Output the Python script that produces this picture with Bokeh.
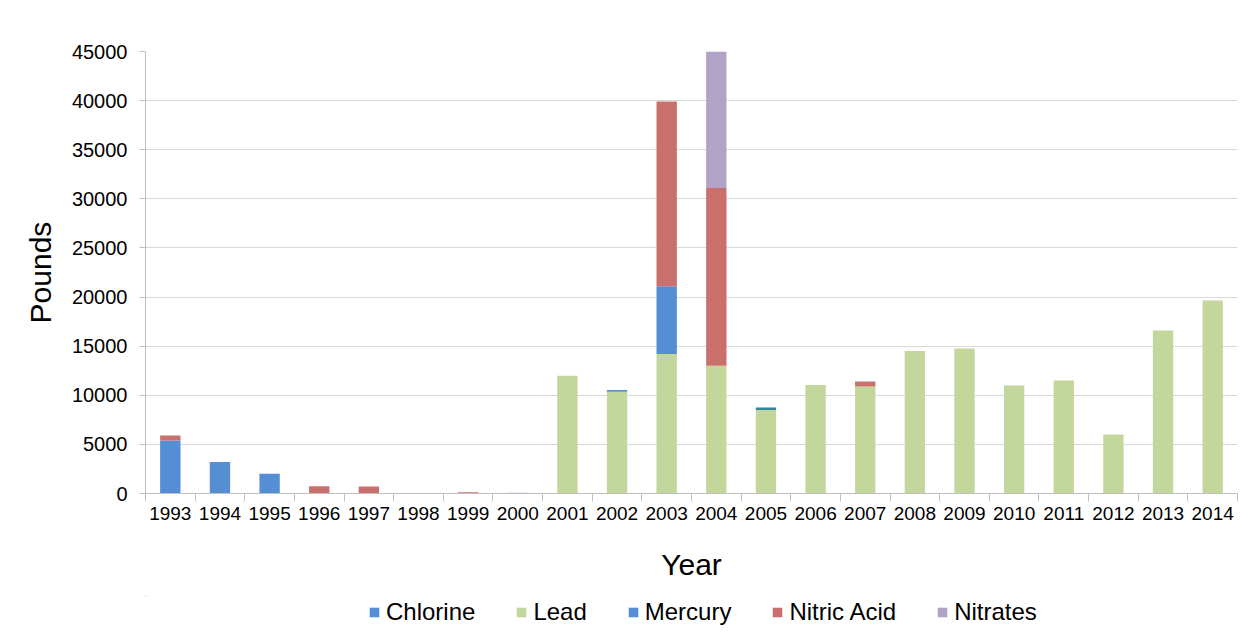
from bokeh.plotting import figure
from bokeh.layouts import column
from bokeh.models import (ColumnDataSource, Range1d, FixedTicker, Legend,
                          LegendItem)
from bokeh.embed import file_html
from bokeh.resources import INLINE

years = ["1993", "1994", "1995", "1996", "1997", "1998", "1999", "2000",
         "2001", "2002", "2003", "2004", "2005", "2006", "2007", "2008",
         "2009", "2010", "2011", "2012", "2013", "2014"]

chlorine = [5400, 3200, 2000, 0, 0, 0, 0, 0,
            0, 0, 0, 0, 0, 0, 0, 0,
            0, 0, 0, 0, 0, 0]
lead = [0, 0, 0, 0, 0, 0, 0, 0,
        12000, 10350, 14200, 13000, 8500, 11050, 10900, 14500,
        14750, 11000, 11500, 6000, 16600, 19650]
mercury = [0, 0, 0, 0, 0, 0, 0, 0,
           0, 200, 6900, 0, 0, 0, 0, 0,
           0, 0, 0, 0, 0, 0]
nitric_acid = [500, 0, 0, 750, 700, 0, 130, 0,
               0, 0, 18800, 18100, 0, 0, 500, 0,
               0, 0, 0, 0, 0, 0]
nitrates = [0, 0, 0, 0, 0, 0, 0, 0,
            0, 0, 0, 13900, 0, 0, 0, 0,
            0, 0, 0, 0, 0, 0]
other_teal = [0, 0, 0, 0, 0, 0, 0, 0,
              0, 0, 0, 0, 250, 0, 0, 0,
              0, 0, 0, 0, 0, 0]
other_pale = [0, 0, 0, 0, 0, 0, 0, 100,
              0, 0, 0, 0, 0, 0, 0, 0,
              0, 0, 0, 0, 0, 0]

series_names = ["Chlorine", "Lead", "Mercury", "Nitric Acid", "Nitrates"]
y_ticks = [0, 5000, 10000, 15000, 20000, 25000, 30000, 35000, 40000, 45000]

colors = ["#558ED5", "#C3D69B", "#558ED5", "#C9706D", "#B3A2C7",
          "#31859C", "#C6D9F1"]
keys = ["chlorine", "lead", "mercury", "nitric", "nitrates", "teal", "pale"]

positions = list(range(len(years)))
source = ColumnDataSource(dict(
    x=positions, chlorine=chlorine, lead=lead, mercury=mercury,
    nitric=nitric_acid, nitrates=nitrates, teal=other_teal, pale=other_pale))

FONT = "Liberation Sans"

p = figure(width=1240, height=595, output_backend="svg",
           toolbar_location=None,
           x_range=Range1d(-0.5, len(years) - 0.5),
           y_range=Range1d(0, 45000),
           min_border_left=145, min_border_right=3, min_border_top=51,
           min_border_bottom=102)
p.outline_line_color = None
p.background_fill_color = "white"
p.border_fill_color = "white"

renderers = p.vbar_stack(keys, x="x", width=0.41, color=colors,
                         source=source, line_color=None)

# y axis
p.yaxis.ticker = FixedTicker(ticks=y_ticks)
p.yaxis.axis_line_color = "#bfbfbf"
p.yaxis.major_tick_line_color = "#bfbfbf"
p.yaxis.major_tick_out = 6
p.yaxis.major_tick_in = 0
p.yaxis.minor_tick_line_color = None
p.yaxis.major_label_text_font = FONT
p.yaxis.major_label_text_font_size = "20px"
p.yaxis.major_label_text_color = "#000000"
p.yaxis.major_label_standoff = 12
p.yaxis.axis_label = "Pounds"
p.yaxis.axis_label_text_font = FONT
p.yaxis.axis_label_text_font_size = "30px"
p.yaxis.axis_label_text_font_style = "normal"
p.yaxis.axis_label_text_color = "#000000"
p.yaxis.axis_label_standoff = 12
p.yaxis.formatter.use_scientific = False

# x axis
boundaries = [i - 0.5 for i in range(len(years) + 1)]
p.xaxis.ticker = FixedTicker(ticks=positions, minor_ticks=boundaries)
p.xaxis.major_label_overrides = {i: y for i, y in enumerate(years)}
p.xaxis.axis_line_color = "#bfbfbf"
p.xaxis.major_tick_line_color = None
p.xaxis.minor_tick_line_color = "#bfbfbf"
p.xaxis.minor_tick_out = 8
p.xaxis.minor_tick_in = 0
p.xaxis.major_tick_out = 8
p.xaxis.major_label_text_font = FONT
p.xaxis.major_label_text_font_size = "19px"
p.xaxis.major_label_text_color = "#000000"
p.xaxis.major_label_standoff = 5
p.xaxis.axis_label = "Year"
p.xaxis.axis_label_text_font = FONT
p.xaxis.axis_label_text_font_size = "30px"
p.xaxis.axis_label_text_font_style = "normal"
p.xaxis.axis_label_text_color = "#000000"
p.xaxis.axis_label_standoff = 25

p.xgrid.grid_line_color = None
p.ygrid.grid_line_color = "#d9d9d9"
p.ygrid.ticker = FixedTicker(ticks=y_ticks)

# legend strip: same series drawn far out of view so the legend has swatches
lf = figure(width=1240, height=35, output_backend="svg",
            toolbar_location=None, x_axis_location=None, y_axis_location=None,
            x_range=Range1d(1000, 1001),
            y_range=Range1d(-2, -1),
            min_border_left=0, min_border_right=0, min_border_top=0,
            min_border_bottom=0)
lf.outline_line_color = None
lf.xgrid.grid_line_color = None
lf.ygrid.grid_line_color = None
lf.background_fill_color = "white"
lf.border_fill_color = "white"
legend_renderers = lf.vbar_stack(keys, x="x", width=0.41, color=colors,
                                 source=source, line_color=None)

legend = Legend(items=[LegendItem(label=n, renderers=[r])
                       for n, r in zip(series_names, legend_renderers[:5])],
                orientation="horizontal", location=(223, 4))
legend.label_text_font = FONT
legend.label_text_font_size = "24px"
legend.label_text_color = "#000000"
legend.glyph_width = 12
legend.glyph_height = 12
legend.label_standoff = 6
legend.spacing = 40
legend.border_line_color = None
legend.background_fill_alpha = 0
legend.padding = 0
legend.margin = 0
lf.add_layout(legend, "center")

layout = column(p, lf, spacing=0)
open("out.html", "w").write(file_html(layout, INLINE))
